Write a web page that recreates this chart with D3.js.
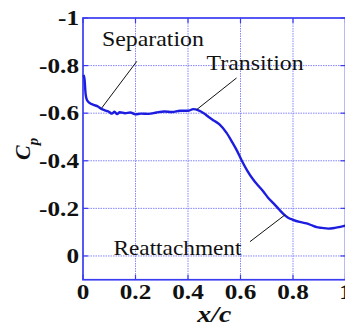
<!DOCTYPE html>
<html>
<head>
<meta charset="utf-8">
<script src="https://cdn.jsdelivr.net/npm/d3@7/dist/d3.min.js"></script>
<style>
  html, body { margin: 0; padding: 0; background: #fff; overflow: hidden; }
  svg { display: block; }
  .serif { font-family: "Liberation Serif", "Times New Roman", Times, serif; }
</style>
</head>
<body>
<script>
// Pressure coefficient along the chord
const xc = [0.002, 0.006, 0.01, 0.015, 0.025, 0.04, 0.057, 0.07, 0.083, 0.1, 0.11, 0.12, 0.13, 0.14, 0.16, 0.18, 0.2, 0.22, 0.25, 0.28, 0.31, 0.34, 0.37, 0.4, 0.42, 0.44, 0.46, 0.48, 0.5, 0.52, 0.547, 0.57, 0.585, 0.605, 0.625, 0.649, 0.668, 0.687, 0.705, 0.725, 0.745, 0.763, 0.78, 0.8, 0.825, 0.852, 0.875, 0.89, 0.91, 0.934, 0.96, 0.98, 1.0];
const cp = [-0.76, -0.74, -0.68, -0.655, -0.643, -0.635, -0.628, -0.618, -0.612, -0.605, -0.598, -0.606, -0.596, -0.604, -0.6, -0.603, -0.595, -0.598, -0.597, -0.603, -0.607, -0.605, -0.61, -0.61, -0.617, -0.612, -0.6, -0.583, -0.568, -0.553, -0.517, -0.475, -0.446, -0.4, -0.36, -0.32, -0.295, -0.271, -0.245, -0.222, -0.198, -0.177, -0.162, -0.152, -0.143, -0.137, -0.127, -0.121, -0.118, -0.115, -0.118, -0.122, -0.127];

const xTicks = [0, 0.2, 0.4, 0.6, 0.8, 1];
const xTickLabels = ["0", "0.2", "0.4", "0.6", "0.8", "1"];
const yTicks = [-1, -0.8, -0.6, -0.4, -0.2, 0];
const yTickLabels = ["-1", "-0.8", "-0.6", "-0.4", "-0.2", "0"];

// Annotated flow events: label, point on the curve, label anchor
const notes = [
  { text: "Separation",   px: 0.07,  py: -0.62, lx: 0.205, ly: -0.818, tx: 0.072, ty: -0.883, len: 102 },
  { text: "Transition",   px: 0.433, py: -0.615, lx: 0.585, ly: -0.748, tx: 0.471, ty: -0.78,  len: 97 },
  { text: "Reattachment", px: 0.77,  py: -0.173, lx: 0.636, ly: -0.06,  tx: 0.116, ty: -0.004, len: 128 }
];

const W = 345, H = 327;
const margin = { left: 83, top: 18 };
const plotW = 262.5, plotH = 261.75;

const svg = d3.select("body").append("svg").attr("width", W).attr("height", H);

const x = d3.scaleLinear().domain([0, 1]).range([margin.left, margin.left + plotW]);
const y = d3.scaleLinear().domain([-1, 0.1]).range([margin.top, margin.top + plotH]);

const frameColor = "#3b3bf2";
const gridColor = "#8585ff";

// dotted grid
const grid = svg.append("g");
grid.selectAll("line.vx").data(xTicks.slice(1, -1)).enter().append("line")
  .attr("x1", d => x(d)).attr("x2", d => x(d))
  .attr("y1", y(-1)).attr("y2", y(0.1))
  .attr("stroke", gridColor).attr("stroke-width", 1).attr("stroke-dasharray", "1.5,1");
grid.selectAll("line.hy").data(yTicks.slice(1)).enter().append("line")
  .attr("x1", x(0)).attr("x2", x(1))
  .attr("y1", d => y(d)).attr("y2", d => y(d))
  .attr("stroke", gridColor).attr("stroke-width", 1).attr("stroke-dasharray", "1.5,1");

// inward ticks on the frame
const tickLen = 5;
const ticks = svg.append("g").attr("stroke", frameColor).attr("stroke-width", 1.2);
xTicks.forEach(d => {
  ticks.append("line").attr("x1", x(d)).attr("x2", x(d)).attr("y1", y(0.1)).attr("y2", y(0.1) - tickLen);
  ticks.append("line").attr("x1", x(d)).attr("x2", x(d)).attr("y1", y(-1)).attr("y2", y(-1) + tickLen);
});
yTicks.forEach(d => {
  ticks.append("line").attr("x1", x(0)).attr("x2", x(0) + tickLen).attr("y1", y(d)).attr("y2", y(d));
  ticks.append("line").attr("x1", x(1)).attr("x2", x(1) - tickLen).attr("y1", y(d)).attr("y2", y(d));
});

// frame
svg.append("rect")
  .attr("x", x(0)).attr("y", y(-1))
  .attr("width", x(1) - x(0)).attr("height", y(0.1) - y(-1))
  .attr("fill", "none").attr("stroke", frameColor).attr("stroke-width", 1.7);

// Cp curve
const line = d3.line().x((d, i) => x(xc[i])).y(d => y(d)).curve(d3.curveMonotoneX);
svg.append("path").datum(cp)
  .attr("d", line)
  .attr("fill", "none").attr("stroke", "#1d1de0").attr("stroke-width", 2.4)
  .attr("stroke-linejoin", "round");

// tick labels (wide bold serif)
svg.append("g").selectAll("text").data(yTicks).enter().append("text")
  .attr("class", "serif")
  .attr("transform", d => `translate(${x(0) - 4},${y(d)}) scale(1.2,1)`)
  .attr("dy", "0.34em")
  .attr("text-anchor", "end")
  .attr("font-weight", "bold").attr("font-size", 21)
  .attr("fill", "#111")
  .text((d, i) => yTickLabels[i]);
svg.append("g").selectAll("text").data(xTicks).enter().append("text")
  .attr("class", "serif")
  .attr("transform", d => `translate(${x(d)},${y(0.1) + 19}) scale(1.2,1)`)
  .attr("text-anchor", "middle")
  .attr("font-weight", "bold").attr("font-size", 21)
  .attr("fill", "#111")
  .text((d, i) => xTickLabels[i]);

// axis titles
svg.append("text")
  .attr("class", "serif")
  .attr("x", x(0.5)).attr("y", 322)
  .attr("text-anchor", "middle")
  .attr("font-weight", "bold")
  .attr("font-style", "italic").attr("font-size", 24).attr("fill", "#111")
  .attr("textLength", 34).attr("lengthAdjust", "spacingAndGlyphs")
  .text("x/c");

const yl = svg.append("text")
  .attr("class", "serif")
  .attr("transform", `translate(30,${y(-0.45)}) rotate(-90)`)
  .attr("text-anchor", "middle")
  .attr("font-weight", "bold")
  .attr("font-style", "italic").attr("fill", "#111");
yl.append("tspan").attr("font-size", 22).text("C");
yl.append("tspan").attr("font-size", 15).attr("dy", 8).text("p");

// annotations with leader lines
const ann = svg.append("g");
notes.forEach(n => {
  ann.append("line")
    .attr("x1", x(n.px)).attr("y1", y(n.py))
    .attr("x2", x(n.lx)).attr("y2", y(n.ly))
    .attr("stroke", "#111").attr("stroke-width", 1);
  ann.append("text")
    .attr("class", "serif")
    .attr("x", x(n.tx)).attr("y", y(n.ty))
    .attr("font-size", 22)
    .attr("fill", "#111")
    .attr("textLength", n.len).attr("lengthAdjust", "spacingAndGlyphs")
    .text(n.text);
});
</script>
</body>
</html>
